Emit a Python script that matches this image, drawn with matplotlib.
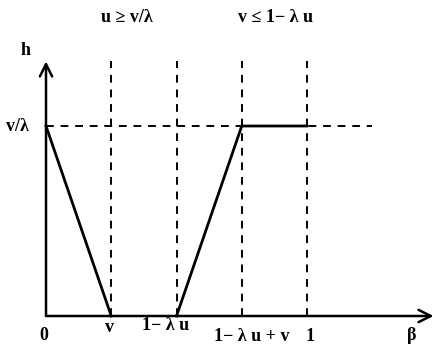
import matplotlib.pyplot as plt

# break points on the beta axis (v=0.25, lambda*u=0.5)
beta_pts = [0.0, 0.25, 0.5, 0.75, 1.0]
beta_labels = ["0", "v", "1\u2212 \u03bb u", "1\u2212 \u03bb u + v", "1"]
# piecewise linear h(beta)
left_x = [0.0, 0.25]
left_h = [1.0, 0.0]
right_x = [0.5, 0.75, 1.0]
right_h = [0.0, 1.0, 1.0]
h_level = 1.0  # v/lambda

plt.rcParams['font.family'] = ['Liberation Serif', 'DejaVu Serif']

fig = plt.figure(figsize=(4.34, 3.48), dpi=100)
ax = fig.add_axes([0, 0, 1, 1])
ax.set_xlim(-46 / 261, 388 / 261)
ax.set_ylim(-32 / 190, 316 / 190)
ax.axis('off')

# axes with arrows
arr = dict(arrowstyle='->', lw=1.8, color='black', mutation_scale=22,
           shrinkA=0, shrinkB=0)
ax.annotate('', xy=(1.485, 0), xytext=(0, 0), arrowprops=arr)
ax.annotate('', xy=(0, 1.34), xytext=(0, 0), arrowprops=arr)

# dashed guides
for b in beta_pts[1:]:
    ax.plot([b, b], [0, 1.34], ls=(0, (4, 3.5)), color='black', lw=1.4)
ax.plot([0, 1.25], [h_level, h_level], ls=(0, (4, 3.5)), color='black', lw=1.4)

# h curve
ax.plot(left_x, left_h, color='black', lw=2)
ax.plot(right_x, right_h, color='black', lw=2)

fs = 13
kw = dict(fontsize=fs, fontweight='bold', ha='center', va='center')
offs = [-0.1, -0.06, -0.05, -0.11, -0.11]
xs = [-0.01, 0.245, 0.46, 0.79, 1.01]
for x, o, lab in zip(xs, offs, beta_labels):
    ax.text(x, o, lab, **kw)
ax.text(1.40, -0.1, "\u03b2", **kw)
ax.text(-0.11, h_level, "v/\u03bb", **kw)
ax.text(-0.08, 1.40, "h", **kw)
ax.text(0.31, 1.57, "u \u2265 v/\u03bb", **kw)
ax.text(0.88, 1.57, "v \u2264 1\u2212 \u03bb u", **kw)

fig.savefig('out.png', dpi=100)
